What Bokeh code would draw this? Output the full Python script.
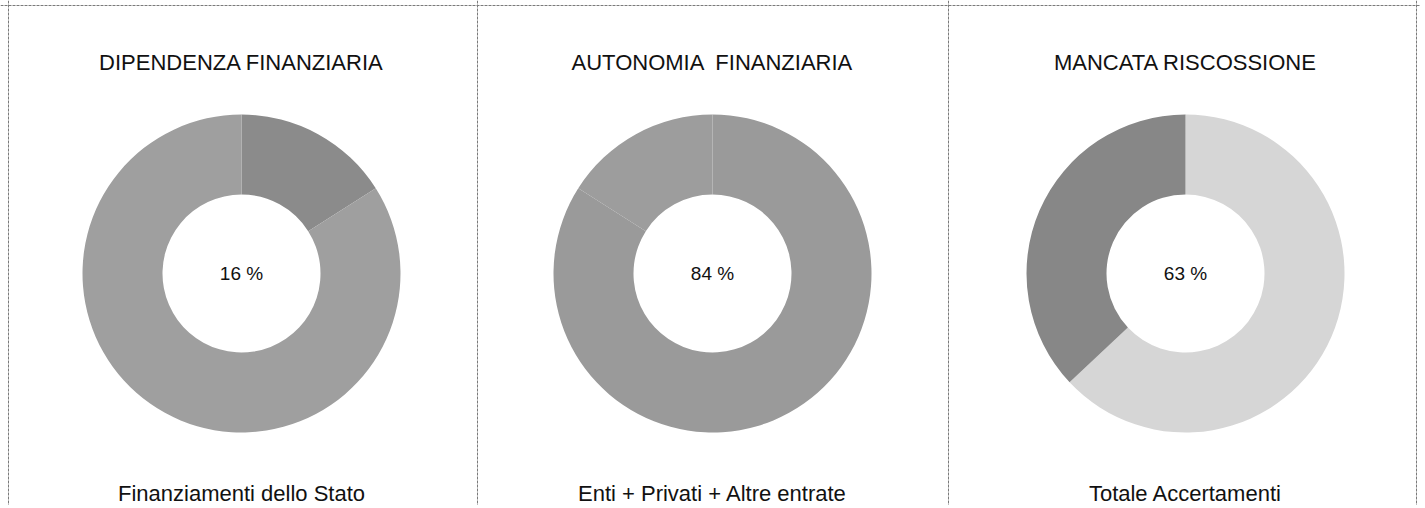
import numpy as np
from bokeh.plotting import figure
from bokeh.models import Range1d, Span, ColumnDataSource
from bokeh.core.properties import value
from bokeh.embed import file_html
from bokeh.resources import INLINE

# ---- data ----
titles = ["DIPENDENZA FINANZIARIA", "AUTONOMIA \u00a0FINANZIARIA", "MANCATA RISCOSSIONE"]
subtitles = ["Finanziamenti dello Stato", "Enti + Privati + Altre entrate", "Totale Accertamenti"]
center_labels = ["16 %", "84 %", "63 %"]
shares_primary = [16, 84, 63]          # first slice, clockwise from 12 o'clock (%)
colors_primary = ["#8b8b8b", "#9a9a9a", "#d6d6d6"]
colors_rest = ["#9f9f9f", "#9d9d9d", "#878787"]

# ---- layout (pixel coordinates, y measured from the top) ----
W, H = 1420, 505
panel_edges = [8, 477, 948, 1416]
donut_cx = [241, 712, 1185]
top_border = 5
cy_px = 273
r_in, r_out = 79, 159
y_title_px, y_sub_px = 62, 493
font = "Liberation Sans"

def Y(px):
    return H - px

p = figure(width=W, height=H, x_range=Range1d(0, W), y_range=Range1d(0, H),
           output_backend="svg", toolbar_location=None, min_border=0,
           outline_line_color=None, background_fill_color="white")
p.axis.visible = False
p.grid.visible = False

centers = donut_cx

xs, starts, ends, cols = [], [], [], []
for i, share in enumerate(shares_primary):
    vals = np.array([share, 100 - share], dtype=float)
    cum = np.concatenate([[0], np.cumsum(vals)]) / vals.sum()
    for j, c in enumerate([colors_primary[i], colors_rest[i]]):
        xs.append(centers[i])
        starts.append(np.pi / 2 - 2 * np.pi * cum[j])
        ends.append(np.pi / 2 - 2 * np.pi * cum[j + 1])
        cols.append(c)

src = ColumnDataSource(dict(x=xs, y=[Y(cy_px)] * len(xs), s=starts, e=ends, c=cols))
p.annular_wedge(x="x", y="y", inner_radius=r_in, outer_radius=r_out,
                start_angle="s", end_angle="e", direction="clock",
                fill_color="c", line_color=None, source=src)

tsrc = ColumnDataSource(dict(x=centers, yt=[Y(y_title_px)] * 3, yc=[Y(cy_px)] * 3,
                             ys=[Y(y_sub_px)] * 3,
                             t=titles, c=center_labels, s=subtitles))
p.text(x="x", y="yt", text="t", source=tsrc, text_font=value(font),
       text_font_size="22px", text_align="center", text_baseline="middle", text_color="#111111")
p.text(x="x", y="yc", text="c", source=tsrc, text_font=value(font),
       text_font_size="19px", text_align="center", text_baseline="middle", text_color="#111111")
p.text(x="x", y="ys", text="s", source=tsrc, text_font=value(font),
       text_font_size="22px", text_align="center", text_baseline="middle", text_color="#111111")

# panel borders
border = dict(line_color="#7a7a7a", line_width=1, line_dash="3 1")
p.add_layout(Span(location=Y(top_border), dimension="width", **border))
for x in panel_edges:
    p.add_layout(Span(location=x, dimension="height", **border))

open("out.html", "w").write(file_html(p, INLINE))
